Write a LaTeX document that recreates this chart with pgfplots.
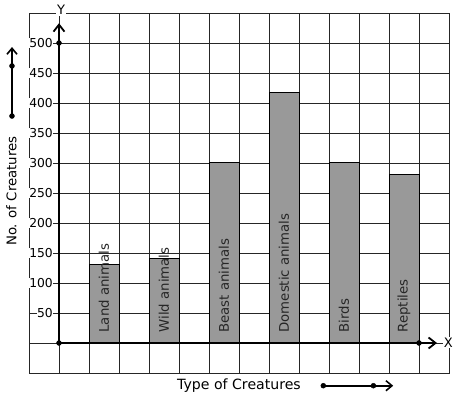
\documentclass[border=0pt]{standalone}
\usepackage{pgfplots}
\pgfplotsset{compat=1.18}
\usepackage{fontspec}
\setmainfont{DejaVu Sans}
\usetikzlibrary{arrows.meta}
\begin{document}
\begin{tikzpicture}
\begin{axis}[
 scale only axis, width=420pt, height=360pt,
 xmin=-1, xmax=13, ymin=-50, ymax=550,
 xtick={-1,0,...,13}, xticklabels={},
 ytick={50,100,...,500},
 grid=major,
 major grid style={draw=black!85, line width=0.8pt},
 axis line style={draw=black!85, line width=0.8pt},
 tick style={draw=none},
 /pgf/number format/assume math mode=true,
 yticklabel style={font=\fontsize{12.3}{14}\selectfont, anchor=east, xshift=24.5pt, fill=white, inner sep=0.5pt},
 clip=false,
]
\addplot[draw=black!85, line width=0.8pt] coordinates {(-1,0) (13,0)};
\addplot[ybar, bar width=1, fill=black!40, draw=black, line width=1pt] coordinates {(1.5,130)(3.5,140)(5.5,300)(7.5,418)(9.5,300)(11.5,280)};
% axes
\addplot[line width=2.6pt, -{Straight Barb[length=7pt,width=11pt,line width=1.8pt]}] coordinates {(0,0)(0,533)};
\addplot[line width=2.6pt, -{Straight Barb[length=7pt,width=11pt,line width=1.8pt]}] coordinates {(0,0)(12.6,0)};
% side arrows
\addplot[line width=2.2pt, -{Straight Barb[length=6pt,width=10pt,line width=1.6pt]}] coordinates {(-1.567,378.3)(-1.567,493.3)};
\addplot[line width=1.8pt, -{Straight Barb[length=6pt,width=10pt,line width=1.6pt]}] coordinates {(8.81,-71.2)(11.14,-71.2)};
\addplot[only marks, mark=*, mark size=2.5pt, black] coordinates {(0,0)(0,500)(12,0)(-1.567,378.3)(-1.567,461.7)(8.81,-71.2)(10.48,-71.2)};
% bar labels
\foreach \xx/\lab in {1.5/Land animals, 3.5/Wild animals, 5.5/Beast animals, 7.5/Domestic animals, 9.5/Birds, 11.5/Reptiles}{
  \edef\temp{\noexpand\node[rotate=90, anchor=west, inner sep=0pt, font=\noexpand\fontsize{13.3}{15}\noexpand\selectfont, text=black!85] at (axis cs:\xx,17.2) {\lab};}
  \temp
}
\node[rotate=90, font=\fontsize{13.3}{15}\selectfont] at (axis cs:-1.59,253) {No. of Creatures};
\node[anchor=base, font=\fontsize{14.1}{16}\selectfont] at (axis cs:6.0,-78.3) {Type of Creatures};
\coordinate (ylab) at (axis cs:0.067,555);
\coordinate (xlab) at (axis cs:12.98,1.1);
\coordinate (bbsw) at (axis cs:-1.9667,-93.33);
\coordinate (bbne) at (axis cs:13.2667,571.67);
\end{axis}
\node[fill=white, inner sep=1pt, font=\fontsize{13}{15}\selectfont] at (ylab) {Y};
\node[fill=white, inner sep=1pt, font=\fontsize{13}{15}\selectfont] at (xlab) {X};
\pgfresetboundingbox
\path (bbsw) rectangle (bbne);
\end{tikzpicture}
\end{document}
